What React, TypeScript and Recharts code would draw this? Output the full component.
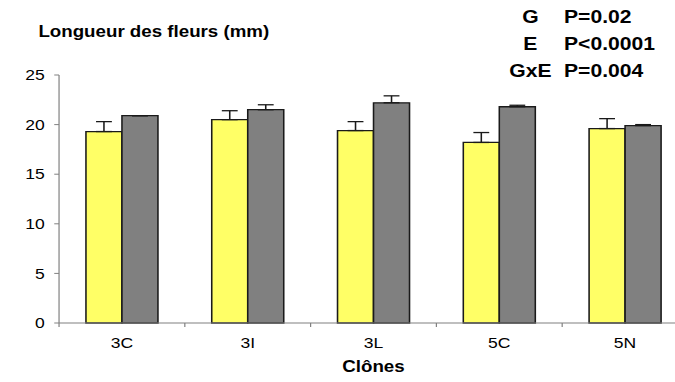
import React from "react";
import { BarChart, Bar, XAxis, YAxis, ErrorBar, Label } from "recharts";

const clones = ["3C", "3I", "3L", "5C", "5N"];
const yellowMeans = [19.3, 20.5, 19.4, 18.2, 19.6];
const yellowErrors = [1.0, 0.9, 0.9, 1.0, 1.0];
const greyMeans = [20.9, 21.5, 22.2, 21.8, 19.9];
const greyErrors = [0, 0.5, 0.7, 0.15, 0.1];
const yTicks = [0, 5, 10, 15, 20, 25];

const statRows = [
  { effect: "G", p: "P=0.02" },
  { effect: "E", p: "P<0.0001" },
  { effect: "GxE", p: "P=0.004" },
];

// the original picture is stretched sideways, so the chart is drawn narrow and scaled
const STRETCH = 1.2;
const FONT = "'Liberation Sans', Arial, sans-serif";

const data = clones.map((clone, i) => ({
  clone,
  yellow: yellowMeans[i],
  yellowErr: [0, yellowErrors[i]],
  grey: greyMeans[i],
  greyErr: [0, greyErrors[i]],
}));

function CloneTick(props: any) {
  const { x, y, payload } = props;
  const half = payload?.offset ?? 52.4;
  return (
    <g>
      <line x1={x - half} x2={x - half} y1={y} y2={y + 4} stroke="#808080" strokeWidth={1} />
      <text x={x} y={y + 25} textAnchor="middle" fontSize={14.6} fill="#000" fontFamily={FONT}>
        {payload.value}
      </text>
    </g>
  );
}

export default function App() {
  return (
    <div
      style={{
        position: "fixed",
        left: 0,
        top: 0,
        width: 675,
        height: 382,
        overflow: "hidden",
        background: "#fff",
      }}
    >
      <div
        style={{
          position: "absolute",
          left: 0,
          top: 0,
          width: 584,
          height: 382,
          transform: `scaleX(${STRETCH})`,
          transformOrigin: "0 0",
          fontFamily: FONT,
        }}
      >
        <div
          style={{
            position: "absolute",
            left: 32,
            top: 23,
            fontSize: 15.6,
            fontWeight: "bold",
            lineHeight: "18px",
            whiteSpace: "nowrap",
          }}
        >
          Longueur des fleurs (mm)
        </div>
        {statRows.map((row, i) => (
          <div
            key={row.effect}
            style={{
              position: "absolute",
              left: 420,
              top: 7 + i * 27,
              fontSize: 17.6,
              fontWeight: "bold",
              lineHeight: "20px",
              whiteSpace: "nowrap",
              display: "flex",
            }}
          >
            <span style={{ width: 44, textAlign: "center" }}>{row.effect}</span>
            <span style={{ marginLeft: 6 }}>{row.p}</span>
          </div>
        ))}
        <BarChart
          width={584}
          height={382}
          data={data}
          margin={{ top: 75, right: 10.7, bottom: 0, left: 0 }}
          barCategoryGap="21.4%"
          barGap={0}
        >
          <YAxis
            width={49.2}
            domain={[0, 25]}
            ticks={yTicks}
            interval={0}
            stroke="#808080"
            tickSize={4}
            tickMargin={8}
            tick={{ fill: "#000", fontSize: 14.6, fontFamily: FONT }}
          />
          <XAxis
            dataKey="clone"
            height={59}
            stroke="#808080"
            tickLine={false}
            tickSize={0}
            tickMargin={0}
            interval={0}
            tick={<CloneTick />}
          >
            <Label
              value="Clônes"
              position="insideBottom"
              offset={10}
              fill="#000"
              fontSize={15.6}
              fontWeight="bold"
              fontFamily={FONT}
            />
          </XAxis>
          <Bar dataKey="yellow" fill="#FFFF66" stroke="#1a1a1a" strokeWidth={1.3} isAnimationActive={false}>
            <ErrorBar dataKey="yellowErr" width={6.6} stroke="#1a1a1a" strokeWidth={1.3} direction="y" />
          </Bar>
          <Bar dataKey="grey" fill="#808080" stroke="#1a1a1a" strokeWidth={1.3} isAnimationActive={false}>
            <ErrorBar dataKey="greyErr" width={6.6} stroke="#1a1a1a" strokeWidth={1.3} direction="y" />
          </Bar>
        </BarChart>
      </div>
    </div>
  );
}
